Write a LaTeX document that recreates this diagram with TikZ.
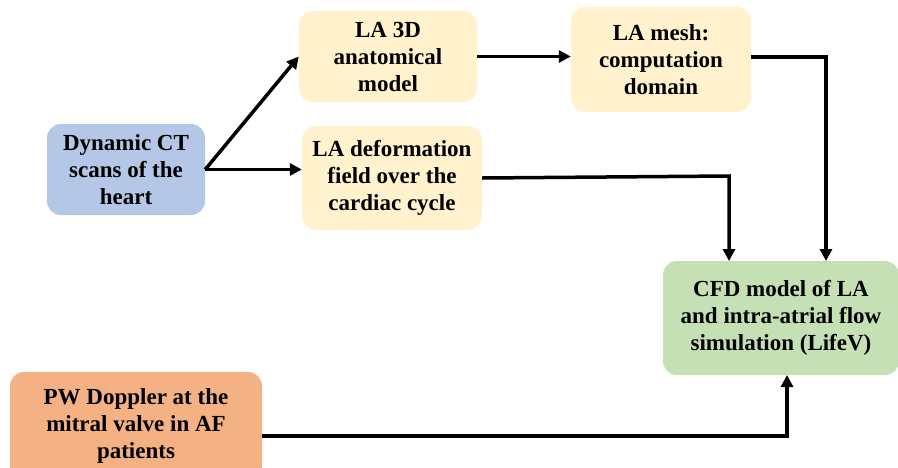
\documentclass[tikz,border=0pt]{standalone}
\usepackage{fontspec}
\setmainfont{Liberation Serif}
\usetikzlibrary{arrows.meta}
\definecolor{ctblue}{HTML}{B4C7E7}
\definecolor{lyellow}{HTML}{FFF2CC}
\definecolor{lgreen}{HTML}{C5E0B4}
\definecolor{lorange}{HTML}{F4B183}
\tikzset{
  box/.style={rounded corners=14pt, align=center, inner sep=0pt,
    font=\bfseries\fontsize{23}{27}\selectfont, text=black},
  arr/.style={line width=3.5pt, -{Triangle[length=12pt,width=12pt]}}
}
\begin{document}
\begin{tikzpicture}[x=1pt,y=-1pt]
\useasboundingbox (0,0) rectangle (898,467);
\begin{scope}
\clip (0,0) rectangle (898,467);
\node[box, fill=ctblue, minimum width=158pt, minimum height=91pt] (ct) at (126,169.5) {Dynamic CT\\scans of the\\heart};
\node[box, fill=lyellow, minimum width=178pt, minimum height=91pt] (la3d) at (388,56.5) {LA 3D\\anatomical\\model};
\node[box, fill=lyellow, minimum width=180pt, minimum height=105pt] (mesh) at (661,59.5) {LA mesh:\\computation\\domain};
\node[box, fill=lyellow, minimum width=180pt, minimum height=104pt] (def) at (392,178) {LA deformation\\field over the\\cardiac cycle};
\node[box, fill=lgreen, minimum width=236pt, minimum height=114pt] (cfd) at (781,318) {CFD model of LA\\and intra-atrial flow\\simulation (LifeV)};
\node[box, fill=lorange, minimum width=252pt, minimum height=108pt] (pw) at (136,426) {PW Doppler at the\\mitral valve in AF\\patients};
\end{scope}
\coordinate (m1) at (826,57);
\coordinate (m2) at (826,261);
\coordinate (d1) at (729,176);
\coordinate (d2) at (729,261);
\coordinate (p1) at (787,436);
\coordinate (p2) at (787,375);
\draw[arr] (ct.east) -- (la3d.west);
\draw[arr] (ct.east) -- (ct.east -| def.west);
\draw[arr] (la3d.east) -- (la3d.east -| mesh.west);
\draw[arr] (mesh.east |- m1) -- (m1) -- (m2);
\draw[arr] (def.east) -- (d1) -- (d2);
\draw[arr] (pw.east |- p1) -- (p1) -- (p2);
\end{tikzpicture}
\end{document}
